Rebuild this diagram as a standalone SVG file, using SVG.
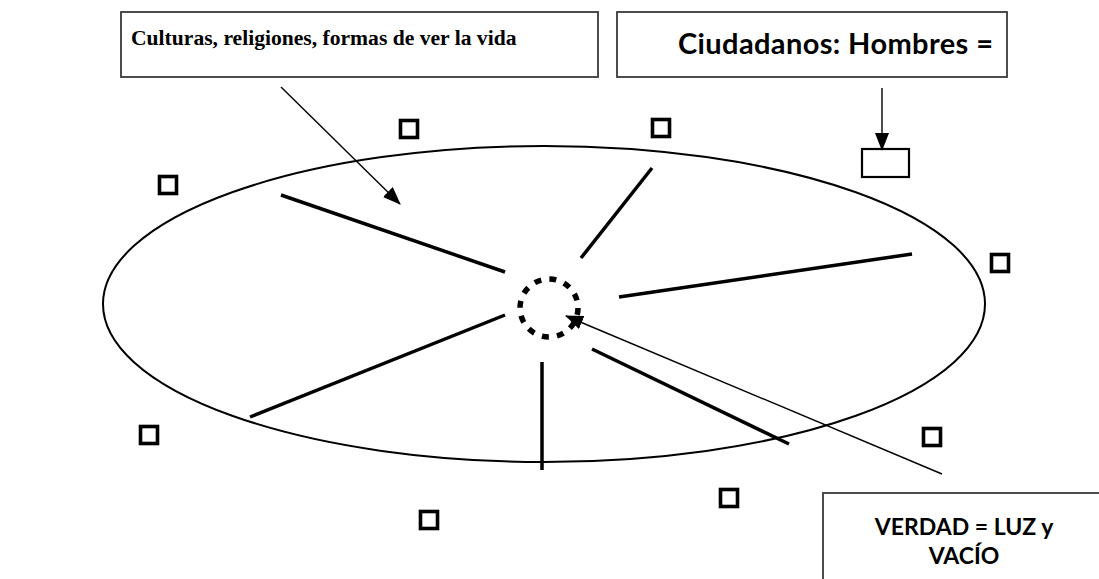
<svg xmlns="http://www.w3.org/2000/svg" width="1099" height="579" viewBox="0 0 1099 579">
<style>
.box{fill:#fff;stroke:#3a3a3a;stroke-width:1.8}
.sq{fill:none;stroke:#000;stroke-width:3.6}
.spoke{stroke:#000;stroke-width:3.5;stroke-linecap:butt}
.arr{stroke:#000;stroke-width:1.4;fill:none}
.t1{font-family:"Liberation Serif","Times New Roman",serif;font-weight:bold;font-size:21.6px;fill:#000}
.t2{font-family:Lato,"Open Sans",sans-serif;font-weight:bold;fill:#000}
</style>
<defs>
<marker id="ah" viewBox="0 0 18 14" refX="17" refY="7" markerWidth="18" markerHeight="14" markerUnits="userSpaceOnUse" orient="auto">
<path d="M0,0 L18,7 L0,14 Z" fill="#000"/>
</marker>
</defs>
<rect width="1099" height="579" fill="#fff"/>
<g id="ellipse">
<ellipse cx="544" cy="304" rx="441" ry="158" fill="none" stroke="#000" stroke-width="2"/>
</g>
<g id="center">
<circle cx="549" cy="308" r="29" fill="none" stroke="#000" stroke-width="5.5" stroke-dasharray="7 8.2"/>
</g>
<g id="spokes">
<line class="spoke" x1="281" y1="195" x2="505" y2="272"/>
<line class="spoke" x1="652" y1="168" x2="581" y2="258"/>
<line class="spoke" x1="619" y1="297" x2="912" y2="254"/>
<line class="spoke" x1="592" y1="349" x2="789" y2="444"/>
<line class="spoke" x1="542" y1="362" x2="542" y2="470"/>
<line class="spoke" x1="505" y1="315" x2="250" y2="417"/>
</g>
<g id="squares">
<rect class="sq" x="400.5" y="120.5" width="17" height="17"/>
<rect class="sq" x="159.5" y="176.5" width="17" height="17"/>
<rect class="sq" x="140.5" y="426.5" width="17" height="17"/>
<rect class="sq" x="652.5" y="119.5" width="17" height="17"/>
<rect class="sq" x="991.5" y="254.5" width="17" height="17"/>
<rect class="sq" x="923.5" y="428.5" width="17" height="17"/>
<rect class="sq" x="720.5" y="489.5" width="17" height="17"/>
<rect class="sq" x="420.5" y="511.5" width="17" height="17"/>
</g>
<g id="small-box">
<rect x="862" y="149" width="47" height="28" fill="#fff" stroke="#000" stroke-width="2.2"/>
</g>
<g id="box-culturas">
<rect class="box" x="121" y="12" width="477" height="65"/>
<text class="t1" x="131" y="45">Culturas, religiones, formas de ver la vida</text>
</g>
<g id="box-ciudadanos">
<rect class="box" x="617" y="12" width="390" height="65"/>
<text class="t2" x="678" y="54" font-size="29" textLength="315">Ciudadanos: Hombres =</text>
</g>
<g id="box-verdad">
<rect class="box" x="823" y="493" width="290" height="100"/>
<text class="t2" x="964" y="535" font-size="23" text-anchor="middle">VERDAD = LUZ y</text>
<text class="t2" x="964" y="564" font-size="23" text-anchor="middle">VACÍO</text>
</g>
<g id="connectors">
<line class="arr" x1="281" y1="87" x2="400" y2="204" marker-end="url(#ah)"/>
<line class="arr" x1="882" y1="88" x2="882" y2="150" marker-end="url(#ah)"/>
<line class="arr" x1="942" y1="474" x2="566" y2="316" marker-end="url(#ah)"/>
</g>
</svg>
